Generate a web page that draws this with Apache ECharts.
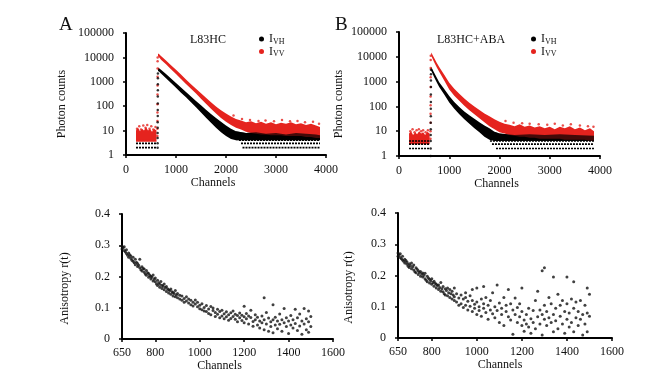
<!DOCTYPE html>
<html>
<head>
<meta charset="utf-8">
<script src="https://cdn.jsdelivr.net/npm/echarts@6/dist/echarts.min.js"></script>
<style>
  html, body { margin: 0; padding: 0; background: #fff; }
  #main { width: 667px; height: 380px; }
</style>
</head>
<body>
<div id="main"></div>
<script>
// ---- data ----
// fluorescence decays: [channel, lower edge, upper edge] of the dot cloud
var vhDecayA = [
  [640, 2600, 3700], [650, 2800, 3800], [700, 2200, 3100], [800, 1400, 2100], [900, 900, 1350],
  [1000, 570, 900], [1100, 360, 580], [1200, 230, 380], [1300, 145, 250], [1400, 90, 165],
  [1500, 55, 110], [1600, 34, 72], [1700, 21, 48], [1800, 13, 33], [1900, 8.5, 23],
  [2000, 6, 16], [2100, 4.5, 12], [2200, 4, 9.5], [2400, 4, 8], [2600, 4, 8.5],
  [2800, 4, 7.5], [3000, 4, 8], [3200, 4, 7], [3400, 4, 8], [3600, 4, 7.5], [3800, 4, 7], [3880, 4, 6.5]
];
var vvDecayA = [
  [640, 10500, 13500], [650, 11000, 14500], [700, 8000, 11500], [800, 5200, 7500], [900, 3300, 4800],
  [1000, 2100, 3100], [1100, 1300, 2000], [1200, 820, 1250], [1300, 520, 800], [1400, 330, 520],
  [1500, 200, 340], [1600, 125, 220], [1700, 78, 145], [1800, 50, 98], [1900, 33, 68],
  [2000, 23, 50], [2100, 17, 38], [2200, 13, 30], [2300, 11, 26], [2400, 9, 22],
  [2500, 8, 24], [2600, 7.5, 20], [2700, 7, 23], [2800, 7, 19], [2900, 6.5, 22],
  [3000, 6.5, 18], [3100, 6.5, 21], [3200, 6, 19], [3300, 6, 22], [3400, 6, 18],
  [3500, 6, 20], [3600, 5.5, 17], [3700, 5.5, 19], [3800, 5, 16], [3880, 5, 14]
];
var vvBaseA = [
  [200, 3.5, 10], [240, 3.5, 13], [280, 3.5, 9.5], [320, 3.5, 12], [360, 3.5, 10], [400, 3.5, 14],
  [440, 3.5, 10], [480, 3.5, 12], [520, 3.5, 9], [560, 3.5, 12], [610, 3.5, 10]
];
var vhDecayB = [
  [640, 2700, 4000], [650, 2500, 3600], [700, 1500, 2300], [750, 950, 1450], [800, 600, 950],
  [900, 300, 500], [1000, 145, 260], [1100, 80, 150], [1200, 48, 95], [1300, 30, 62],
  [1400, 20, 44], [1500, 13, 32], [1600, 9, 23], [1700, 6, 17], [1800, 4.5, 13],
  [1900, 4, 9.5], [2000, 4, 8], [2300, 4, 7], [2600, 4, 7.5], [2900, 4, 7],
  [3200, 4, 7.5], [3500, 4, 7], [3880, 4, 6.5]
];
var vvDecayB = [
  [640, 11000, 15000], [650, 10000, 14000], [700, 6000, 9000], [750, 3800, 5800], [800, 2500, 3900],
  [900, 1100, 1900], [1000, 480, 900], [1100, 270, 520], [1200, 170, 320], [1300, 105, 210],
  [1400, 70, 140], [1500, 48, 100], [1600, 33, 72], [1700, 23, 52], [1800, 16, 40],
  [1900, 12, 30], [2000, 9, 24], [2100, 8, 20], [2200, 7, 18], [2300, 6.5, 16],
  [2400, 6, 19], [2500, 6, 15], [2600, 5.5, 17], [2700, 5.5, 14], [2800, 5, 16],
  [2900, 5, 13], [3000, 5, 15], [3100, 5, 12], [3200, 5, 15], [3300, 4.5, 13],
  [3400, 4.5, 16], [3500, 4.5, 12], [3600, 4.5, 14], [3700, 4.5, 11], [3800, 4, 13], [3880, 4, 10]
];
var vvBaseB = [
  [200, 3, 8], [240, 3, 10], [280, 3, 7], [320, 3, 9], [360, 3, 7.5], [400, 3, 10],
  [440, 3, 8], [480, 3, 9], [520, 3, 7], [560, 3, 9.5], [610, 3, 8]
];
// discrete count levels (rows of dots): [count, from channel, to channel]
var vhRowsA = [[2, 200, 610], [3, 200, 610], [2, 2330, 3880], [3, 2300, 3880], [4, 2260, 3880]];
var vvRowsA = [[4, 200, 610]];
var vhRowsB = [[1, 230, 610], [2, 200, 610], [3, 200, 610], [4, 200, 610],
  [1, 2090, 3880], [2, 1930, 3880], [3, 1850, 3880], [4, 1810, 3880]];
// rising edge and stray dots
var vhRiseA = [[632, 2], [632, 3], [633, 5], [633, 8], [634, 13], [634, 22], [635, 40], [635, 70],
  [636, 130], [636, 250], [637, 450], [637, 800], [638, 1400], [638, 2200]];
var vvRiseA = [[628, 6], [628, 12], [629, 25], [629, 55], [630, 120], [630, 300], [631, 700],
  [631, 1600], [632, 3500], [632, 7000], [633, 10000]];
var vvDotsA = [[220, 12], [265, 15], [300, 11], [345, 16], [390, 13], [425, 17], [470, 12], [505, 15],
  [545, 11], [590, 14], [2150, 42], [2320, 30], [2480, 27], [2650, 25], [2790, 26], [2960, 24],
  [3120, 27], [3280, 24], [3430, 25], [3580, 22], [3740, 23], [3860, 19]];
var vhRiseB = [[630, 1], [630, 2], [631, 4], [631, 7], [632, 12], [632, 22], [633, 40], [633, 80],
  [634, 150], [634, 300], [635, 600], [635, 1100], [636, 2000], [636, 3000]];
var vvRiseB = [[627, 5], [627, 10], [628, 22], [628, 50], [629, 110], [629, 250], [630, 600],
  [630, 1500], [631, 3500], [631, 7500], [632, 11000]];
var vvDotsB = [[225, 10], [270, 12], [310, 9], [350, 11], [395, 12], [440, 10], [480, 11], [530, 9],
  [575, 11], [2120, 26], [2280, 22], [2450, 21], [2600, 20], [2780, 19], [2950, 18], [3100, 20],
  [3260, 17], [3420, 19], [3600, 17], [3760, 16], [3870, 15]];

// anisotropy r(t): [channel, r]
var rA = [
  [650,.297],[650,.288],[655,.292],[660,.283],[660,.295],[665,.279],[670,.274],[670,.286],[675,.268],
  [680,.262],[680,.275],[685,.27],[690,.258],[690,.266],[695,.252],[700,.249],[700,.262],[705,.244],
  [710,.255],[710,.238],[715,.246],[720,.232],[720,.242],[725,.236],[730,.255],[730,.228],[735,.222],
  [740,.231],[740,.218],[745,.226],[750,.214],[750,.224],[755,.208],[760,.219],[760,.204],[765,.212],
  [770,.198],[770,.21],[775,.204],[780,.192],[780,.201],[785,.198],[790,.186],[790,.205],[795,.191],
  [800,.183],[800,.195],[805,.176],[810,.188],[810,.171],[815,.18],[820,.175],[820,.166],[825,.184],
  [830,.162],[830,.172],[835,.169],[840,.158],[840,.176],[845,.165],[850,.152],[850,.168],[855,.161],
  [860,.147],[860,.158],[865,.155],[870,.143],[870,.16],[875,.151],[880,.138],[880,.149],[885,.146],
  [890,.135],[890,.155],[895,.141],[900,.132],[900,.146],[910,.128],[910,.14],[920,.124],[920,.138],
  [930,.13],[930,.118],[940,.122],[940,.135],[950,.115],[950,.128],[960,.124],[960,.11],[970,.118],
  [970,.106],[980,.112],[980,.125],[990,.103],[990,.118],[1000,.108],[1000,.097],[1010,.113],[1010,.094],
  [1020,.101],[1020,.09],[1030,.107],[1030,.088],[1040,.096],[1040,.082],[1050,.104],[1050,.078],
  [1060,.091],[1060,.099],[1070,.085],[1070,.072],[1080,.095],[1080,.079],[1090,.088],[1090,.068],
  [1100,.092],[1100,.074],[1110,.081],[1110,.065],[1120,.087],[1120,.071],[1130,.078],[1130,.06],
  [1140,.084],[1140,.066],[1150,.072],[1150,.09],[1160,.063],[1160,.079],[1170,.075],[1170,.055],
  [1180,.068],[1180,.083],[1190,.059],[1190,.076],[1200,.071],[1200,.105],[1200,.052],[1210,.065],
  [1210,.082],[1220,.048],[1220,.074],[1230,.069],[1230,.092],[1240,.056],[1240,.041],[1250,.078],
  [1250,.062],[1260,.045],[1260,.07],[1270,.058],[1270,.035],[1280,.074],[1280,.052],[1290,.132],
  [1290,.062],[1290,.03],[1300,.048],[1300,.085],[1310,.067],[1310,.025],[1320,.055],[1320,.04],
  [1330,.11],[1330,.062],[1330,.02],[1340,.045],[1340,.07],[1350,.058],[1350,.033],[1360,.08],
  [1360,.047],[1370,.062],[1370,.025],[1380,.098],[1380,.052],[1390,.04],[1390,.068],[1400,.058],
  [1400,.018],[1410,.075],[1410,.045],[1420,.035],[1420,.062],[1430,.095],[1430,.05],[1440,.068],
  [1440,.027],[1450,.042],[1450,.08],[1460,.058],[1460,.015],[1470,.098],[1470,.048],[1480,.065],
  [1480,.03],[1490,.09],[1490,.055],[1490,.022],[1500,.072],[1500,.04]
];
var rB = [
  [650,.272],[650,.262],[655,.266],[660,.258],[660,.27],[665,.254],[670,.25],[670,.262],[675,.246],
  [680,.24],[680,.252],[685,.248],[690,.236],[690,.243],[695,.23],[700,.238],[700,.226],[705,.232],
  [710,.222],[710,.24],[715,.228],[720,.218],[720,.234],[725,.212],[730,.225],[730,.209],[735,.22],
  [740,.203],[740,.215],[745,.21],[750,.198],[750,.213],[755,.205],[760,.195],[760,.208],[765,.201],
  [770,.19],[770,.207],[775,.185],[780,.198],[780,.18],[785,.192],[790,.176],[790,.188],[795,.183],
  [800,.172],[800,.19],[805,.178],[810,.166],[810,.182],[815,.175],[820,.16],[820,.172],[825,.168],
  [830,.155],[830,.17],[835,.162],[840,.15],[840,.178],[845,.158],[850,.148],[850,.165],[855,.142],
  [860,.158],[860,.138],[865,.152],[870,.135],[870,.16],[875,.145],[880,.13],[880,.155],[885,.142],
  [890,.125],[890,.15],[895,.138],[900,.12],[900,.16],[900,.132],[910,.115],[910,.142],[920,.128],
  [920,.105],[930,.138],[930,.11],[940,.098],[940,.125],[950,.13],[950,.105],[950,.145],[960,.118],
  [960,.09],[970,.102],[970,.135],[980,.085],[980,.12],[980,.155],[990,.108],[990,.095],[1000,.075],
  [1000,.115],[1000,.16],[1010,.1],[1010,.088],[1020,.125],[1020,.07],[1030,.095],[1030,.11],[1030,.165],
  [1040,.082],[1040,.13],[1050,.105],[1050,.06],[1060,.09],[1060,.12],[1070,.078],[1070,.145],
  [1080,.1],[1080,.065],[1090,.088],[1090,.17],[1100,.05],[1100,.112],[1110,.095],[1110,.075],
  [1120,.13],[1120,.04],[1130,.085],[1130,.105],[1140,.068],[1140,.155],[1150,.11],[1150,.058],
  [1160,.09],[1160,.012],[1170,.075],[1170,.128],[1180,.05],[1180,.098],[1190,.068],[1190,.11],
  [1200,.04],[1200,.085],[1200,.16],[1210,.058],[1210,.022],[1220,.075],[1220,.045],[1230,.035],
  [1230,.095],[1240,.062],[1240,.015],[1250,.088],[1250,.05],[1260,.12],[1260,.03],[1270,.068],
  [1270,.15],[1280,.045],[1280,.09],[1290,.215],[1290,.075],[1290,.01],[1300,.225],[1300,.105],
  [1300,.06],[1310,.085],[1310,.04],[1320,.13],[1320,.065],[1330,.05],[1330,.11],[1340,.195],
  [1340,.075],[1340,.02],[1350,.095],[1350,.055],[1360,.14],[1360,.03],[1370,.07],[1370,.105],
  [1380,.045],[1380,.12],[1390,.085],[1390,.015],[1400,.195],[1400,.06],[1400,.11],[1410,.08],
  [1410,.035],[1420,.125],[1420,.05],[1430,.18],[1430,.095],[1430,.02],[1440,.065],[1440,.115],
  [1450,.04],[1450,.085],[1460,.12],[1460,.06],[1470,.075],[1470,.01],[1480,.105],[1480,.045],
  [1490,.16],[1490,.08],[1490,.02],[1500,.14],[1500,.07]
];

var chTicksBottom = [650, 800, 1000, 1200, 1400, 1600];

// ---- chart ----
var BLACK = '#000';
var RED = '#e5231e';
var FONT = 'Liberation Serif';

function band(name, rows, color, opacity, gi) {
  return {
    type: 'custom', name: name, xAxisIndex: gi, yAxisIndex: gi,
    data: rows, encode: { x: 0, y: [1, 2] },
    itemStyle: { color: color }, silent: true, clip: true,
    renderItem: function (params, api) {
      if (params.dataIndex !== 0) return null;
      var top = [], bot = [];
      rows.forEach(function (r) {
        top.push(api.coord([r[0], r[2]]));
        bot.unshift(api.coord([r[0], r[1]]));
      });
      return { type: 'polygon', shape: { points: top.concat(bot) },
        style: { fill: color, opacity: opacity } };
    }
  };
}
function rows(name, list, color, gi) {
  return list.map(function (r) {
    return {
      type: 'line', name: name, xAxisIndex: gi, yAxisIndex: gi, symbol: 'none', silent: true,
      data: [[r[1], r[0]], [r[2], r[0]]],
      itemStyle: { color: color },
      lineStyle: { color: color, width: 1.6, type: [2, 1] }
    };
  });
}
function dots(name, list, color, size, gi) {
  return { type: 'scatter', name: name, xAxisIndex: gi, yAxisIndex: gi, data: list,
    symbolSize: size, itemStyle: { color: color }, silent: true };
}

var axisLine = { show: true, onZero: false, lineStyle: { color: '#000', width: 2 } };
var axisTick = { show: true, length: 3, lineStyle: { color: '#000', width: 1.5 } };
var labelFont = { color: '#111', fontFamily: FONT, fontSize: 12 };
var nameFont = { color: '#111', fontFamily: FONT, fontSize: 12 };
var plain = function (v) { return String(Math.round(v)); };

function topX(gi, pad) {
  return { type: 'value', gridIndex: gi, min: 0, max: 4000, interval: 1000,
    axisLine: axisLine, axisTick: axisTick, splitLine: { show: false },
    axisLabel: Object.assign({ margin: 9, formatter: plain }, labelFont),
    name: 'Channels', nameLocation: 'middle', nameGap: 21,
    nameTextStyle: Object.assign({ padding: [0, pad, 0, 0] }, nameFont) };
}
function topY(gi, gap) {
  return { type: 'log', logBase: 10, gridIndex: gi, min: 1, max: 100000,
    axisLine: axisLine, axisTick: axisTick, splitLine: { show: false }, minorTick: { show: false },
    axisLabel: Object.assign({ margin: 12, formatter: plain }, labelFont),
    name: 'Photon counts', nameLocation: 'middle', nameGap: gap,
    nameTextStyle: Object.assign({ padding: [0, 20, 0, 0] }, nameFont) };
}
function botX(gi, pad) {
  return { type: 'value', gridIndex: gi, min: 650, max: 1600, interval: 50,
    axisLine: axisLine, splitLine: { show: false },
    axisTick: Object.assign({ customValues: chTicksBottom }, axisTick),
    axisLabel: Object.assign({ margin: 8, customValues: chTicksBottom, formatter: plain }, labelFont),
    name: 'Channels', nameLocation: 'middle', nameGap: 20,
    nameTextStyle: Object.assign({ padding: [0, pad, 0, 0] }, nameFont) };
}
function botY(gi, gap) {
  return { type: 'value', gridIndex: gi, min: 0, max: 0.4, interval: 0.1,
    axisLine: axisLine, axisTick: axisTick, splitLine: { show: false },
    axisLabel: Object.assign({ margin: 12, formatter: function (v) { return v === 0 ? '0' : v.toFixed(1); } }, labelFont),
    name: 'Anisotropy r(t)', nameLocation: 'middle', nameGap: gap,
    nameTextStyle: Object.assign({ padding: [0, 24, 0, 0] }, nameFont) };
}

function legend(left) {
  return {
    left: left, top: 28, orient: 'vertical', itemGap: 0, itemWidth: 5, itemHeight: 5,
    icon: 'circle', data: ['IVH', 'IVV'], selectedMode: false,
    formatter: function (n) { return '{a|I}{b|' + n.slice(1) + '}'; },
    textStyle: { color: '#111', fontFamily: FONT, fontSize: 12,
      rich: { a: { fontFamily: FONT, fontSize: 12, color: '#111' },
              b: { fontFamily: FONT, fontSize: 8, color: '#111', padding: [5, 0, 0, 0] } } }
  };
}

var series = [].concat(
  // panel A
  band('IVH', vhDecayA, BLACK, 1, 0),
  band('IVV', vvDecayA, RED, 1, 0),
  band('IVH', vhDecayA.slice(17), BLACK, 0.7, 0),
  band('IVV', vvBaseA, RED, 1, 0),
  dots('IVV', vvDotsA, RED, 2.5, 0),
  dots('IVV', vvRiseA, RED, 2.5, 0),
  dots('IVH', vhRiseA, BLACK, 2.5, 0),
  rows('IVV', vvRowsA, RED, 0),
  rows('IVH', vhRowsA, BLACK, 0),
  // panel B
  band('IVH', vhDecayB, BLACK, 1, 1),
  band('IVV', vvDecayB, RED, 1, 1),
  band('IVH', vhDecayB.slice(15), BLACK, 0.7, 1),
  band('IVV', vvBaseB, RED, 1, 1),
  dots('IVV', vvDotsB, RED, 2.5, 1),
  dots('IVV', vvRiseB, RED, 2.5, 1),
  dots('IVH', vhRiseB, BLACK, 2.5, 1),
  rows('IVH', vhRowsB, BLACK, 1),
  // anisotropy
  dots('rA', rA, '#111', 3, 2),
  dots('rB', rB, '#111', 3, 3)
);
series.forEach(function (s) { s.animation = false; });

var chart = echarts.init(document.getElementById('main'));
chart.setOption({
  backgroundColor: '#fff',
  animation: false,
  title: [
    { text: 'A', left: 54, top: 11, textStyle: { fontFamily: FONT, fontSize: 19, fontWeight: 'normal', color: '#111' } },
    { text: 'B', left: 330, top: 11, textStyle: { fontFamily: FONT, fontSize: 19, fontWeight: 'normal', color: '#111' } },
    { text: 'L83HC', left: 185, top: 29, textStyle: { fontFamily: FONT, fontSize: 12, fontWeight: 'normal', color: '#111' } },
    { text: 'L83HC+ABA', left: 432, top: 29, textStyle: { fontFamily: FONT, fontSize: 12, fontWeight: 'normal', color: '#111' } }
  ],
  legend: [legend(254), legend(526)],
  grid: [
    { left: 126, top: 33, width: 200, height: 122 },
    { left: 399, top: 32, width: 201, height: 124 },
    { left: 122, top: 214, width: 211, height: 125 },
    { left: 398, top: 213, width: 214, height: 125 }
  ],
  xAxis: [topX(0, 26), topX(1, 6), botX(2, 16), botX(3, 10)],
  yAxis: [topY(0, 58), topY(1, 54), botY(2, 51), botY(3, 43)],
  series: series
});
</script>
</body>
</html>
